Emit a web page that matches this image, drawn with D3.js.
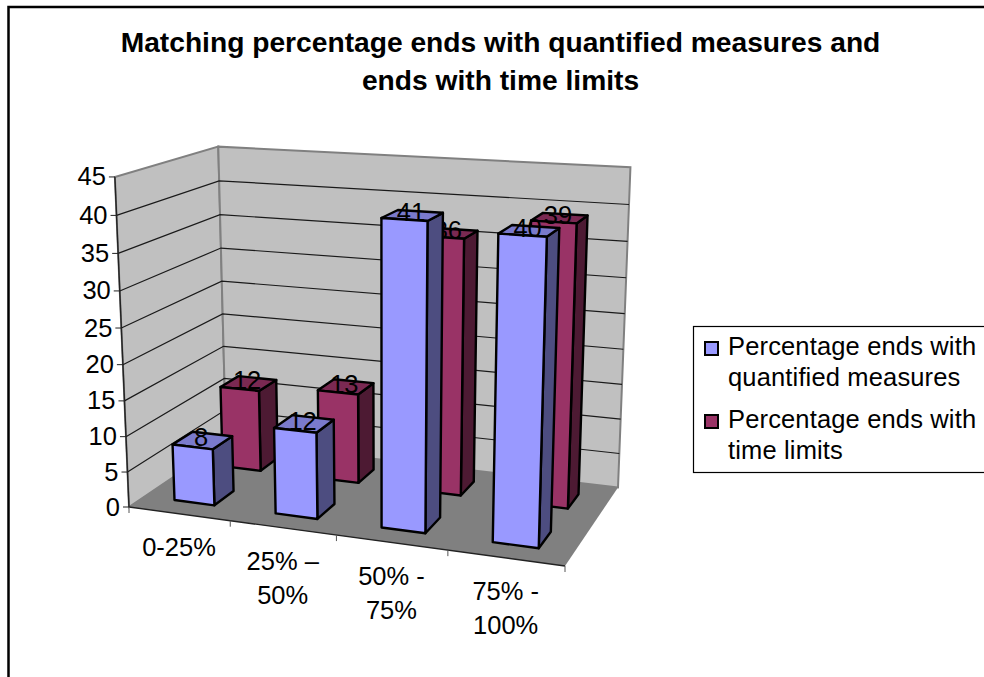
<!DOCTYPE html>
<html>
<head>
<meta charset="utf-8">
<style>
  html, body { margin: 0; padding: 0; background: #fff; }
  svg { display: block; }
  text { font-family: "Liberation Sans", Arial, sans-serif; fill: #000; }
</style>
<script src="https://cdn.jsdelivr.net/npm/d3@7/dist/d3.min.js"></script>
</head>
<body>
<svg id="chart" width="984" height="677"></svg>
<script>
const categories = [["0-25%"], ["25% –", "50%"], ["50% -", "75%"], ["75% -", "100%"]];
const quantified = [8, 12, 41, 40];
const timeLimits = [12, 13, 36, 39];
const seriesNames = [["Percentage ends with", "quantified measures"], ["Percentage ends with", "time limits"]];
const valueTicks = [0, 5, 10, 15, 20, 25, 30, 35, 40, 45];
const titleLines = ["Matching percentage ends with quantified measures and", "ends with time limits"];

// Screen position of the plot box corners: floor quad, then the top of three uprights.
const floorFL = [129, 507], floorFR = [565, 566], floorBR = [618, 487.5], floorBL = [226, 441.5];
const topFL = [118, 180], topBL = [215, 146], topBR = [631, 165];

// Floor homography from the unit square (u across, v into depth).
function squareToQuad(p0, p1, p2, p3) {
  const dx1 = p1[0] - p2[0], dx2 = p3[0] - p2[0], sx = p0[0] - p1[0] + p2[0] - p3[0];
  const dy1 = p1[1] - p2[1], dy2 = p3[1] - p2[1], sy = p0[1] - p1[1] + p2[1] - p3[1];
  const den = dx1 * dy2 - dx2 * dy1;
  const g = (sx * dy2 - dx2 * sy) / den, h = (dx1 * sy - sx * dy1) / den;
  return { a: p1[0] - p0[0] + g * p1[0], b: p3[0] - p0[0] + h * p3[0], d: p0[0],
           e: p1[1] - p0[1] + g * p1[1], f: p3[1] - p0[1] + h * p3[1], k: p0[1], g, h };
}
const H = squareToQuad(floorFL, floorFR, floorBR, floorBL);

// Least-squares fit of the vertical column of the camera matrix.
function fitVertical(samples) {
  const rows = [], rhs = [];
  samples.forEach(([u, v, s]) => {
    const X = H.a * u + H.b * v + H.d, Y = H.e * u + H.f * v + H.k, W = H.g * u + H.h * v + 1;
    rows.push([1, 0, -s[0]]); rhs.push(s[0] * W - X);
    rows.push([0, 1, -s[1]]); rhs.push(s[1] * W - Y);
  });
  const M = d3.range(3).map(i => d3.range(4).map(j => d3.sum(rows, (r, n) => r[i] * (j < 3 ? r[j] : rhs[n]))));
  for (let i = 0; i < 3; i++) {
    let piv = i;
    for (let r = i + 1; r < 3; r++) if (Math.abs(M[r][i]) > Math.abs(M[piv][i])) piv = r;
    [M[i], M[piv]] = [M[piv], M[i]];
    for (let r = 0; r < 3; r++) if (r !== i) {
      const c = M[r][i] / M[i][i];
      for (let j = i; j < 4; j++) M[r][j] -= c * M[i][j];
    }
  }
  return d3.range(3).map(i => M[i][3] / M[i][i]);
}
const [vx, vy, vw] = fitVertical([[0, 0, topFL], [0, 1, topBL], [1, 1, topBR]]);

function project(u, v, w) {
  const W = H.g * u + H.h * v + vw * w + 1;
  return [(H.a * u + H.b * v + vx * w + H.d) / W, (H.e * u + H.f * v + vy * w + H.k) / W];
}

const svg = d3.select("#chart");
const line = d3.line();
const poly = pts => line(pts) + "Z";
const labelSize = 25.5;

const yScale = d3.scaleLinear().domain([0, 45]).range([0, 1]);
const xScale = d3.scaleBand().domain(d3.range(categories.length)).range([0, 1]).paddingInner(0.6).paddingOuter(0.3);
const catScale = d3.scaleBand().domain(d3.range(categories.length)).range([0, 1]);
const depthScale = d3.scaleBand().domain([0, 1]).range([0, 1]).paddingInner(0.6).paddingOuter(0.3);

// Outer chart frame, open at the bottom and right where the page crops it.
svg.append("path").attr("d", "M8.5,677V7H984").attr("fill", "none").attr("stroke", "#000").attr("stroke-width", 2.5);

// Title
svg.append("g").selectAll("text").data(titleLines).join("text")
  .attr("x", 500.5).attr("y", (d, i) => 52 + i * 38)
  .attr("text-anchor", "middle").attr("font-weight", "bold").attr("font-size", 28.2).text(d => d);

// Walls and floor
const wallEdge = "#808080";
svg.append("path").attr("d", poly([project(0,0,0), project(0,1,0), project(0,1,1), project(0,0,1)]))
  .attr("fill", "#c0c0c0").attr("stroke", wallEdge).attr("stroke-width", 2);
svg.append("path").attr("d", poly([project(0,1,0), project(1,1,0), project(1,1,1), project(0,1,1)]))
  .attr("fill", "#c0c0c0").attr("stroke", wallEdge).attr("stroke-width", 2);
svg.append("path").attr("d", poly([project(0,0,0), project(1,0,0), project(1,1,0), project(0,1,0)]))
  .attr("fill", "#808080");

// Gridlines on both walls
svg.append("g").selectAll("path").data(valueTicks.slice(1, -1)).join("path")
  .attr("d", t => line([project(0,0,yScale(t)), project(0,1,yScale(t)), project(1,1,yScale(t))]))
  .attr("fill", "none").attr("stroke", "#1a1a1a").attr("stroke-width", 1.2);

// Value axis with ticks and labels
svg.append("path").attr("d", line([project(0,0,0), project(0,0,1)])).attr("stroke", "#222").attr("stroke-width", 1.4).attr("fill", "none");
const yAxis = svg.append("g").selectAll("g").data(valueTicks).join("g");
yAxis.append("path").attr("d", t => { const p = project(0,0,yScale(t)); return line([[p[0] - 6, p[1]], p]); })
  .attr("stroke", "#222").attr("stroke-width", 1);
yAxis.append("text").attr("x", t => project(0,0,yScale(t))[0] - 9).attr("y", t => project(0,0,yScale(t))[1] + 8.5)
  .attr("text-anchor", "end").attr("font-size", labelSize).text(t => t);

// Category axis with ticks and wrapped labels
svg.append("path").attr("d", line([project(0,0,0), project(1,0,0)])).attr("stroke", "#222").attr("stroke-width", 1.4).attr("fill", "none");
svg.append("g").selectAll("path").data(d3.range(categories.length + 1)).join("path")
  .attr("d", i => { const p = project(i / categories.length, 0, 0); return line([p, [p[0], p[1] + 6]]); })
  .attr("stroke", "#555").attr("stroke-width", 1);
const catLabels = svg.append("g").selectAll("text").data(categories).join("text")
  .attr("font-size", labelSize).attr("text-anchor", "middle");
catLabels.each(function (lines, i) {
  const p = project(catScale(i) + catScale.bandwidth() / 2, 0, 0);
  d3.select(this).selectAll("tspan").data(lines).join("tspan")
    .attr("x", p[0]).attr("y", (d, j) => p[1] + 42 + j * 34).text(d => d);
});

// Columns, painted back row first so nearer columns cover farther ones
const rows = [
  { values: timeLimits, depth: 1, front: "#993366", side: "#4d1a33", top: "#7a2952" },
  { values: quantified, depth: 0, front: "#9999ff", side: "#4d4d80", top: "#7a7acc" }
];
rows.forEach(row => {
  row.values.forEach((value, i) => {
    const u0 = xScale(i), u1 = u0 + xScale.bandwidth();
    const v0 = depthScale(row.depth), v1 = v0 + depthScale.bandwidth();
    const h = yScale(value);
    const g = svg.append("g").attr("stroke", "#000").attr("stroke-width", 2.4).attr("stroke-linejoin", "round");
    g.append("path").attr("d", poly([project(u1,v0,0), project(u1,v1,0), project(u1,v1,h), project(u1,v0,h)])).attr("fill", row.side);
    g.append("path").attr("d", poly([project(u0,v0,h), project(u1,v0,h), project(u1,v1,h), project(u0,v1,h)])).attr("fill", row.top);
    g.append("path").attr("d", poly([project(u0,v0,0), project(u1,v0,0), project(u1,v0,h), project(u0,v0,h)])).attr("fill", row.front);
    const c = project((u0 + u1) / 2, (v0 + v1) / 2, h);
    svg.append("text").attr("x", c[0] - 1.5).attr("y", c[1] + 6).attr("text-anchor", "middle")
      .attr("font-size", labelSize).text(value);
  });
});

// Legend
const legend = svg.append("g");
legend.append("rect").attr("x", 693.5).attr("y", 326.5).attr("width", 300).attr("height", 146)
  .attr("fill", "#fff").attr("stroke", "#000").attr("stroke-width", 1.2);
const legendSwatch = ["#9999ff", "#993366"];
const legendY = d3.scaleOrdinal().domain([0, 1]).range([355, 428]);
seriesNames.forEach((lines, s) => {
  legend.append("rect").attr("x", 705).attr("y", legendY(s) - 13).attr("width", 13).attr("height", 13)
    .attr("fill", legendSwatch[s]).attr("stroke", "#000").attr("stroke-width", 2);
  lines.forEach((t, j) => legend.append("text").attr("x", 728).attr("y", legendY(s) + j * 31)
    .attr("font-size", labelSize).attr("letter-spacing", 0.15).text(t));
});
</script>
</body>
</html>
